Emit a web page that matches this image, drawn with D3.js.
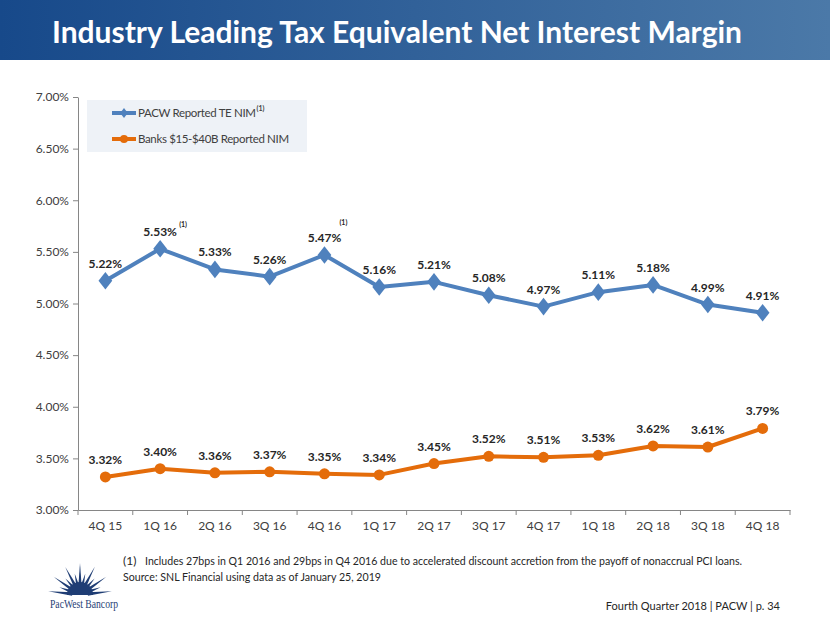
<!DOCTYPE html>
<html>
<head>
<meta charset="utf-8">
<script src="https://cdn.jsdelivr.net/npm/d3@7"></script>
<style>
  html, body { margin: 0; padding: 0; background: #fff; }
  svg { display: block; font-family: Lato, "Open Sans", sans-serif; }
</style>
</head>
<body>
<svg id="chart" width="830" height="623"></svg>
<script>
const categories = ["4Q 15","1Q 16","2Q 16","3Q 16","4Q 16","1Q 17","2Q 17","3Q 17","4Q 17","1Q 18","2Q 18","3Q 18","4Q 18"];
const pacwValues = [5.22, 5.53, 5.33, 5.26, 5.47, 5.16, 5.21, 5.08, 4.97, 5.11, 5.18, 4.99, 4.91];
const banksValues = [3.32, 3.40, 3.36, 3.37, 3.35, 3.34, 3.45, 3.52, 3.51, 3.53, 3.62, 3.61, 3.79];
const yTicks = [3.0, 3.5, 4.0, 4.5, 5.0, 5.5, 6.0, 6.5, 7.0];
const seriesNames = ["PACW Reported TE NIM", "Banks $15-$40B Reported NIM"];
const footnotedIndex = [1, 4];

const svg = d3.select("#chart");
const blue = "#4f81bd", orange = "#e46c0a";

// Title bar
const defs = svg.append("defs");
const grad = defs.append("linearGradient").attr("id", "tg").attr("x1", "0").attr("x2", "1").attr("y1", "0").attr("y2", "0");
grad.append("stop").attr("offset", "0").attr("stop-color", "#17498a");
grad.append("stop").attr("offset", "1").attr("stop-color", "#4b79a8");
svg.append("rect").attr("x", 0).attr("y", 0).attr("width", 830).attr("height", 60).attr("fill", "url(#tg)");
svg.append("text").attr("x", 52).attr("y", 43)
  .attr("fill", "#fff").attr("font-weight", "bold").attr("font-size", 30)
  .attr("textLength", 690).attr("lengthAdjust", "spacingAndGlyphs")
  .text("Industry Leading Tax Equivalent Net Interest Margin");

// Scales
const x = d3.scaleBand().domain(categories).range([78, 790]);
const y = d3.scaleLinear().domain([3, 7]).range([510, 97]);
const cx = d => x(d) + x.bandwidth() / 2;

// Y axis
const yAxis = svg.append("g").attr("transform", "translate(78,0)")
  .call(d3.axisLeft(y).tickValues(yTicks).tickFormat(d => d3.format(".2f")(d) + "%").tickSize(5).tickSizeOuter(0).tickPadding(4));
yAxis.select(".domain").attr("stroke", "#868686");
yAxis.selectAll(".tick line").attr("stroke", "#868686");
yAxis.selectAll("text").attr("fill", "#404040").attr("font-size", 12).attr("font-family", "Lato, sans-serif");

// X axis
const xAxis = svg.append("g").attr("transform", "translate(0,510)")
  .call(d3.axisBottom(x).tickSize(0).tickSizeOuter(0).tickPadding(11));
xAxis.select(".domain").attr("stroke", "#868686");
xAxis.selectAll("text").attr("fill", "#404040").attr("font-size", 12).attr("font-family", "Lato, sans-serif");
const bounds = categories.map(c => x(c)).concat([x(categories[categories.length - 1]) + x.step()]);
svg.append("g").selectAll("line").data(bounds).join("line")
  .attr("x1", d => d).attr("x2", d => d).attr("y1", 510).attr("y2", 515)
  .attr("stroke", "#868686");

// Lines
const line = vals => d3.line().x((d, i) => cx(categories[i])).y(d => y(d))(vals);
svg.append("path").attr("d", line(pacwValues)).attr("fill", "none").attr("stroke", blue).attr("stroke-width", 4).attr("stroke-linejoin", "round");
svg.append("path").attr("d", line(banksValues)).attr("fill", "none").attr("stroke", orange).attr("stroke-width", 4).attr("stroke-linejoin", "round");

const diamond = d3.symbol().type(d3.symbolDiamond).size(90);
svg.append("g").selectAll("path").data(pacwValues).join("path")
  .attr("d", diamond)
  .attr("transform", (d, i) => `translate(${cx(categories[i])},${y(d)}) scale(1.35,1)`)
  .attr("fill", blue);
svg.append("g").selectAll("circle").data(banksValues).join("circle")
  .attr("cx", (d, i) => cx(categories[i])).attr("cy", d => y(d)).attr("r", 5.5)
  .attr("fill", orange);

// Data labels
function labels(vals) {
  svg.append("g").selectAll("text").data(vals).join("text")
    .attr("x", (d, i) => cx(categories[i])).attr("y", d => y(d) - 13)
    .attr("text-anchor", "middle").attr("font-size", 12).attr("font-weight", "bold").attr("fill", "#262626")
    .text(d => d3.format(".2f")(d) + "%");
}
labels(pacwValues);
labels(banksValues);

// footnote marks near labels
svg.append("text").attr("x", cx(categories[footnotedIndex[0]]) + 19).attr("y", y(pacwValues[footnotedIndex[0]]) - 22)
  .attr("font-size", 7).attr("font-weight", "bold").attr("fill", "#262626").text("(1)");
svg.append("text").attr("x", cx(categories[footnotedIndex[1]]) + 15).attr("y", y(pacwValues[footnotedIndex[1]]) - 30)
  .attr("font-size", 7).attr("font-weight", "bold").attr("fill", "#262626").text("(1)");

// Legend
const lg = svg.append("g");
lg.append("rect").attr("x", 87).attr("y", 100).attr("width", 220).attr("height", 52).attr("fill", "#eef2f7");
[[blue, 113, "d"], [orange, 139, "c"]].forEach((s, i) => {
  lg.append("line").attr("x1", 112).attr("x2", 136).attr("y1", s[1]).attr("y2", s[1]).attr("stroke", s[0]).attr("stroke-width", 4);
  if (s[2] === "d") {
    lg.append("path").attr("d", d3.symbol().type(d3.symbolDiamond).size(30)).attr("transform", `translate(124,${s[1]}) scale(1.3,1)`).attr("fill", s[0]);
  } else {
    lg.append("circle").attr("cx", 124).attr("cy", s[1]).attr("r", 4).attr("fill", s[0]);
  }
  const t = lg.append("text").attr("x", 138).attr("y", s[1] + 4).attr("font-size", 11.5).attr("letter-spacing", -0.35)
    .attr("fill", "#404040");
  t.append("tspan").text(seriesNames[i]);
  if (i === 0) {
    t.append("tspan").attr("dx", 1).attr("dy", -6).attr("font-size", 7).attr("font-weight", "bold").attr("letter-spacing", 0).text("(1)");
  }
});

// Footnotes
svg.append("text").attr("x", 123).attr("y", 565).attr("font-size", 12).attr("fill", "#262626").text("(1)");
svg.append("text").attr("x", 145).attr("y", 565).attr("font-size", 12).attr("fill", "#262626")
  .attr("textLength", 597).attr("lengthAdjust", "spacingAndGlyphs")
  .text("Includes 27bps in Q1 2016 and 29bps in Q4 2016 due to accelerated discount accretion from the payoff of nonaccrual PCI loans.");
svg.append("text").attr("x", 123).attr("y", 581).attr("font-size", 12).attr("fill", "#262626")
  .attr("textLength", 258).attr("lengthAdjust", "spacingAndGlyphs")
  .text("Source: SNL Financial using data as of January 25, 2019");
svg.append("text").attr("x", 780).attr("y", 610).attr("text-anchor", "end").attr("font-size", 11).attr("fill", "#262626")
  .text("Fourth Quarter 2018 | PACW | p. 34");

// Logo
const logo = svg.append("g");
const lcx = 80, lcy = 595;
const navy = "#1f3d74";
d3.range(13).forEach(i => {
  const a = Math.PI + (i + 0.5) * Math.PI / 13;
  const len = i % 2 === 0 ? 32 : 22;
  const w = 0.11;
  const p = d3.path();
  p.moveTo(lcx + 8 * Math.cos(a - w * 2), lcy + 8 * Math.sin(a - w * 2));
  p.lineTo(lcx + len * Math.cos(a), lcy + len * Math.sin(a));
  p.lineTo(lcx + 8 * Math.cos(a + w * 2), lcy + 8 * Math.sin(a + w * 2));
  p.closePath();
  logo.append("path").attr("d", p.toString()).attr("fill", navy);
});
logo.append("path").attr("d", d3.arc().innerRadius(0).outerRadius(13).startAngle(-Math.PI / 2).endAngle(Math.PI / 2)()).attr("transform", `translate(${lcx},${lcy})`).attr("fill", navy);
logo.append("text").attr("x", 84).attr("y", 608).attr("text-anchor", "middle").attr("font-family", "Liberation Serif, serif")
  .attr("font-size", 12).attr("fill", navy).attr("textLength", 68).attr("lengthAdjust", "spacingAndGlyphs").text("PacWest Bancorp");
</script>
</body>
</html>
